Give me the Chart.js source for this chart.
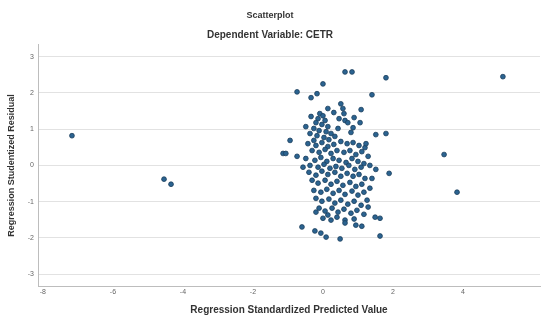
<!DOCTYPE html>
<html>
<head>
<meta charset="utf-8">
<script src="https://cdn.jsdelivr.net/npm/chart.js@4.4.1/dist/chart.umd.min.js"></script>
<style>
  html, body { margin: 0; padding: 0; background: #fff; }
  #wrap { width: 545px; height: 320px; }
</style>
</head>
<body>
<div id="wrap"><canvas id="chart"></canvas></div>
<script>
// Regression Standardized Predicted Value (x) vs Regression Studentized Residual (y)
const predicted = [
  -7.17, -4.54, -4.34, 3.46, 3.83, 5.14, 0.63, 0.83, 1.80, 0.00,
  -0.74, -0.17, -0.34, 1.40, 0.51, 0.57, 1.09, 0.60, 0.89, 0.63,
  0.71, 1.06, 0.86, 0.80, -0.49, 1.51, 1.80, -0.94, -1.14, -1.06,
  -0.74, -0.57, 1.89, 1.51, 1.40, 1.20, -0.20, 0.14, 1.49, 1.63,
  -0.60, -0.23, -0.06, 0.09, 0.49, 0.94, 1.11, 1.63, 0.63, 0.63,
  -0.09, 0.00, -0.14, 0.06, -0.20, -0.03, 0.14, -0.26, -0.11, 0.09,
  0.23, -0.17, 0.03, 0.17, 0.34, 0.43, -0.37, -0.26,
  -0.43, -0.20, -0.03, 0.14, 0.31, 0.51, 0.69, 0.86, 1.03, 1.23,
  -0.31, -0.11, 0.06, 0.23, 0.40, 0.60, 0.77, 0.94, 1.11, 1.29,
  -0.49, -0.23, -0.06, 0.11, 0.29, 0.46, 0.66, 0.83, 1.00, 1.17,
  -0.37, -0.14, 0.03, 0.20, 0.37, 0.54, 0.74, 0.91, 1.09, 1.34,
  -0.40, -0.20, -0.03, 0.14, 0.34, 0.51, 0.69, 0.86, 1.03, 1.20,
  -0.31, -0.14, 0.06, 0.23, 0.40, 0.57, 0.77, 0.94, 1.11,
  -0.26, -0.06, 0.11, 0.29, 0.46, 0.63, 0.83, 1.00, 1.17, 1.34,
  -0.20, -0.03, 0.17, 0.34, 0.51, 0.71, 0.89, 1.09, 1.26,
  -0.11, 0.06, 0.26, 0.43, 0.60, 0.80, 0.97, 1.17, 0.00, 0.23,
  0.40, 0.89, 1.29, 0.14, 0.31, 0.46, -0.34
]
const residual = [
  0.82, -0.38, -0.52, 0.30, -0.74, 2.45, 2.58, 2.58, 2.42, 2.25,
  2.03, 1.98, 1.87, 1.95, 1.70, 1.57, 1.54, 1.43, 1.32, 1.24,
  1.18, 1.18, 1.04, 0.91, 1.07, 0.85, 0.88, 0.69, 0.33, 0.33,
  0.25, -0.05, -0.22, -0.11, -0.36, 0.49, -1.29, -1.37, -1.43, -1.46,
  -1.70, -1.81, -1.87, -1.98, -2.03, -1.65, -1.68, -1.95, -1.51, -1.59,
  1.43, 1.37, 1.29, 1.24, 1.18, 1.13, 1.07, 1.02, 0.96, 0.93,
  0.88, 0.82, 0.77, 0.71, 0.80, 1.02, 0.88, 0.69,
  0.60, 0.55, 0.63, 0.52, 0.58, 0.66, 0.60, 0.63, 0.55, 0.60,
  0.41, 0.36, 0.44, 0.33, 0.41, 0.36, 0.41, 0.30, 0.38, 0.25,
  0.19, 0.14, 0.22, 0.11, 0.19, 0.14, 0.08, 0.19, 0.11, 0.05,
  0.00, -0.05, 0.03, -0.08, -0.03, -0.08, 0.00, -0.11, -0.05, 0.00,
  -0.19, -0.27, -0.16, -0.25, -0.19, -0.30, -0.22, -0.30, -0.25, -0.36,
  -0.41, -0.49, -0.41, -0.52, -0.44, -0.55, -0.47, -0.58, -0.52,
  -0.69, -0.74, -0.66, -0.77, -0.69, -0.80, -0.71, -0.82, -0.74, -0.63,
  -0.91, -0.99, -0.93, -1.04, -0.96, -1.07, -0.99, -1.10, -0.96,
  -1.18, -1.26, -1.18, -1.29, -1.21, -1.32, -1.24, -1.35, -1.46, -1.51,
  -1.43, -1.48, -1.15, 1.57, 1.46, 1.29, 1.35
]
const xTicks = [-8, -6, -4, -2, 0, 2, 4]
const yTicks = [-3, -2, -1, 0, 1, 2, 3]

const points = predicted.map((x, i) => ({ x: x, y: residual[i] }))

const fontFamily = "'Liberation Sans', Arial, sans-serif"

new Chart(document.getElementById("chart"), {
  type: "scatter",
  data: {
    datasets: [{
      data: points,
      backgroundColor: "#2b6390",
      borderColor: "#1b3d5c",
      borderWidth: 0.8,
      pointRadius: 2.4
    }]
  },
  options: {
    responsive: true,
    maintainAspectRatio: false,
    animation: false,
    layout: { padding: { left: 0, right: 5, top: 0, bottom: 0 } },
    plugins: {
      legend: { display: false },
      tooltip: { enabled: false },
      title: {
        display: true,
        text: "Scatterplot",
        color: "#333",
        font: { family: fontFamily, size: 9, weight: "bold" },
        padding: { top: 10, bottom: 4 }
      },
      subtitle: {
        display: true,
        text: "Dependent Variable: CETR",
        color: "#333",
        font: { family: fontFamily, size: 10, weight: "bold" },
        padding: { top: 4, bottom: 4 }
      }
    },
    scales: {
      x: {
        type: "linear",
        min: -8.14,
        max: 6.2,
        afterBuildTicks: (axis) => { axis.ticks = xTicks.map(v => ({ value: v })) },
        afterFit: (axis) => { axis.height = 34 },
        grid: { display: false, drawTicks: false },
        border: { display: true, color: "#bdbdbd" },
        ticks: {
          color: "#666",
          padding: 2,
          font: { family: fontFamily, size: 7 }
        },
        title: {
          display: true,
          text: "Regression Standardized Predicted Value",
          color: "#333",
          font: { family: fontFamily, size: 10, weight: "bold" },
          padding: { top: 2, bottom: 4 }
        }
      },
      y: {
        type: "linear",
        min: -3.33,
        max: 3.33,
        afterBuildTicks: (axis) => { axis.ticks = yTicks.map(v => ({ value: v })) },
        afterFit: (axis) => { axis.width = 38 },
        grid: { color: "#e2e2e2", drawTicks: false },
        border: { display: true, color: "#bdbdbd" },
        ticks: {
          color: "#666",
          padding: 4,
          font: { family: fontFamily, size: 7 }
        },
        title: {
          display: true,
          text: "Regression Studentized Residual",
          color: "#333",
          font: { family: fontFamily, size: 9, weight: "bold" },
          padding: { top: 6, bottom: 2 }
        }
      }
    }
  }
})
</script>
</body>
</html>
